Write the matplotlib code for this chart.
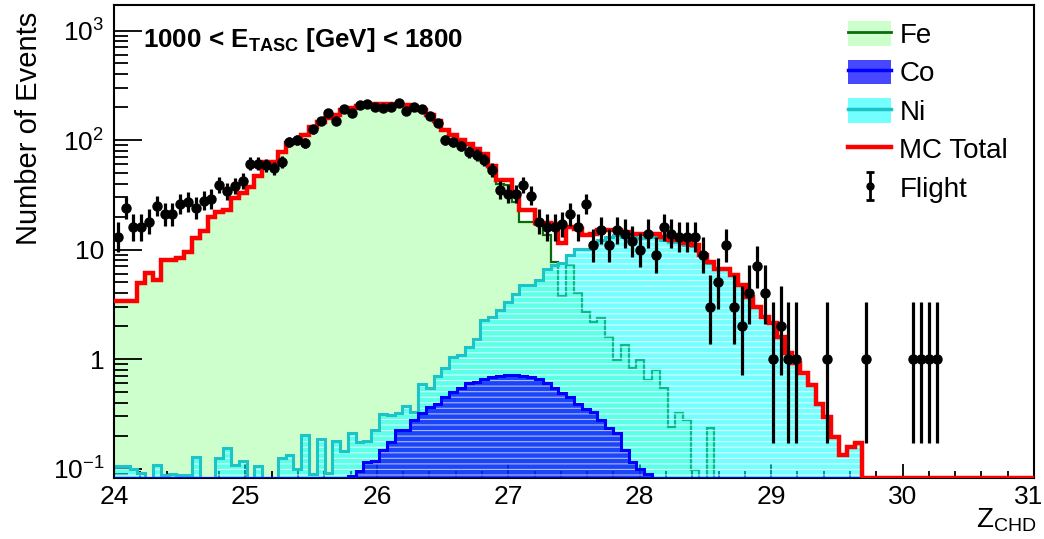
import numpy as np
import matplotlib
matplotlib.use('Agg')
import matplotlib.pyplot as plt
import matplotlib.transforms as mtransforms
from matplotlib.patches import Patch
from matplotlib.lines import Line2D
from matplotlib.ticker import LogLocator, MultipleLocator, FuncFormatter, NullFormatter

plt.rcParams['font.family'] = 'Liberation Sans'
plt.rcParams['mathtext.fontset'] = 'custom'
plt.rcParams['mathtext.rm'] = 'Liberation Sans'
plt.rcParams['mathtext.it'] = 'Liberation Sans:italic'
plt.rcParams['mathtext.bf'] = 'Liberation Sans:bold'
plt.rcParams['hatch.linewidth'] = 0.8

# ------------------------------------------------------------
# Histogram contents, 118 bins between Z = 24 and Z = 31
# ------------------------------------------------------------
z_min, z_max, n_bins = 24.0, 31.0, 118

fe = [3.39, 3.39, 3.39, 4.9, 6.06, 5.26, 8.0, 8.0, 8.3, 9.55,
      12.6, 14.8, 19.9, 22.0, 22.8, 29.3, 32.5, 37.4, 47, 63,
      63, 78, 93, 95, 111, 132, 147, 160, 169, 188,
      195, 204, 210, 214, 213, 211, 210, 207, 190, 186,
      169, 147, 123, 111, 100, 90, 81, 73, 55, 40,
      39, 27, 18, 18, 16.7, 13.6, 7.7, 3.8, 7.2, 4.0,
      2.7, 2.19, 2.35, 1.6, 0.98, 1.34, 0.82, 0.98, 0.64, 0.79,
      0.54, 0.24, 0.32, 0.28, 0.097, 0, 0.233, 0, 0, 0] + [0] * 38

ni = [0.105, 0.105, 0.098, 0.091, 0, 0.108, 0.087, 0.089, 0.087, 0.087,
      0.128, 0, 0, 0.126, 0.153, 0.108, 0.118, 0, 0.105, 0,
      0, 0.126, 0.133, 0.1, 0.202, 0.089, 0.185, 0.091, 0.18, 0.145,
      0.21, 0.176, 0.178, 0.224, 0.313, 0.31, 0.32, 0.372, 0.33, 0.59,
      0.54, 0.70, 0.82, 1.05, 1.09, 1.3, 1.51, 2.27, 2.4, 2.8,
      3.34, 3.9, 4.74, 4.74, 5.26, 6.6, 7.2, 7.5, 8.9, 10.2,
      10.2, 11.5, 12.3, 13, 13.5, 13, 13, 12.8, 13.2, 13,
      12.3, 11.8, 11.7, 11.0, 10.8, 8.9, 7.5, 6.7, 6.7, 5.85,
      4.74, 3.7, 3.0, 2.43, 2.12, 1.6, 1.13, 0.91, 0.74, 0.58,
      0.39, 0.297, 0.195, 0.133, 0.158, 0.17] + [0] * 22

co = [0] * 29 + [0.075, 0.085, 0.095, 0.115, 0.118, 0.148, 0.176, 0.224, 0.226, 0.277,
                 0.32, 0.366, 0.39, 0.45, 0.5, 0.54, 0.6, 0.62, 0.66, 0.69,
                 0.70, 0.71, 0.71, 0.70, 0.69, 0.65, 0.60, 0.54, 0.49, 0.45,
                 0.39, 0.35, 0.33, 0.277, 0.233, 0.21, 0.148, 0.115, 0.098, 0.09,
                 0.075] + [0] * 48

mc_total = [3.39, 3.39, 3.39, 4.9, 6.06, 5.26, 8.0, 8.0, 8.3, 9.55,
            12.65, 14.8, 19.9, 22.1, 22.9, 29.4, 32.6, 37.5, 47, 63,
            63, 78, 93, 96, 111, 132, 147, 160, 169, 188,
            195, 204, 211, 214, 213, 212, 211, 208, 191, 187,
            170, 148, 124, 112, 101, 91, 82, 74, 58, 43,
            43, 32, 23, 23, 17.3, 17.3, 17.0, 11.4, 16.2, 15.5,
            13.6, 14.0, 15.0, 15.0, 15.0, 14.5, 14.0, 14.0, 14.0, 14.0,
            13.0, 12.2, 12.2, 11.4, 11.0, 8.9, 7.7, 6.7, 6.7, 5.85,
            4.74, 3.7, 3.0, 2.43, 2.12, 1.6, 1.13, 0.91, 0.74, 0.58,
            0.39, 0.297, 0.195, 0.133, 0.158, 0.17] + [0] * 22

flight = [13, 24, 16, 16, 18, 25, 21, 21, 26, 27,
          24, 28, 29, 39, 34, 38, 42, 61, 61, 59,
          55, 63, 96, 100, 94, 125, 150, 176, 150, 191,
          176, 208, 213, 199, 195, 199, 216, 185, 199, 191,
          166, 142, 101, 96, 88, 78, 73, 66, 53, 35,
          32, 32, 39, 31, 18, 16, 16, 17, 21, 16,
          26, 11, 15, 11, 15, 14, 12, 10, 14, 9,
          16, 14, 13, 13, 13, 9, 3, 5, 11, 3,
          2, 4, 7, 4, 1, 2, 1, 1, 0, 0,
          0, 1, 0, 0, 0, 0, 1, 0, 0, 0,
          0, 0, 1, 1, 1, 1] + [0] * 12

y_lo, y_hi = 0.0819, 1710.0

edges = np.linspace(z_min, z_max, n_bins + 1)
centers = 0.5 * (edges[:-1] + edges[1:])
width = edges[1] - edges[0]


def garwood(n):
    # intervalo de Poisson (68%) aproximado con Wilson-Hilferty
    n = np.asarray(n, float)
    k1 = 2 * n
    k2 = 2 * n + 2
    lo = 0.5 * k1 * (1 - 2 / (9 * k1) - np.sqrt(2 / (9 * k1))) ** 3
    hi = 0.5 * k2 * (1 - 2 / (9 * k2) + np.sqrt(2 / (9 * k2))) ** 3
    return lo, hi


def line_vals(v):
    return np.maximum(np.asarray(v, float), y_lo)


def fill_vals(v):
    return np.maximum(np.asarray(v, float), 1e-3)


c_fe_fill = '#ccffcc'
c_fe_line = '#0b6b0b'
c_ni_line = '#1cc4c8'
c_ni_fill = (0.0, 1.0, 1.0, 0.55)
c_co_line = '#0000ff'
c_co_fill = (0.0, 0.0, 1.0, 0.72)

fig = plt.figure(figsize=(10.44, 5.39), dpi=100)
ax = fig.add_axes([114 / 1044, 1 - 478 / 539, 920 / 1044, 473 / 539])
ax.set_yscale('log')

# Fe
ax.stairs(fill_vals(fe), edges, baseline=1e-3, fill=True, color=c_fe_fill, zorder=1)
ax.stairs(line_vals(fe), edges, baseline=None, color=c_fe_line, lw=1.6, zorder=1.2)

# Ni
ax.stairs(fill_vals(ni), edges, baseline=1e-3, fill=True, facecolor=c_ni_fill,
          edgecolor='none', zorder=2)
ax.stairs(fill_vals(ni), edges, baseline=1e-3, fill=True, facecolor='none',
          edgecolor=(1, 1, 1, 0.75), lw=0, hatch='---', zorder=2.1)
ax.stairs(line_vals(ni), edges, baseline=None, color=c_ni_line, lw=2.2, zorder=2.2)

# Co
ax.stairs(fill_vals(co), edges, baseline=1e-3, fill=True, facecolor=c_co_fill,
          edgecolor='none', zorder=3)
ax.stairs(fill_vals(co), edges, baseline=1e-3, fill=True, facecolor='none',
          edgecolor=(1, 1, 1, 0.6), lw=0, hatch='---', zorder=3.1)
ax.stairs(line_vals(co), edges, baseline=None, color=c_co_line, lw=2.2, zorder=3.2)

# MC total
ax.stairs(line_vals(mc_total), edges, baseline=None, color='red', lw=3.2, zorder=4)

# Flight
counts = np.asarray(flight, float)
sel = counts > 0
lo, hi = garwood(counts[sel])
ax.errorbar(centers[sel], counts[sel], yerr=[counts[sel] - lo, hi - counts[sel]],
            xerr=width / 2, fmt='o', color='black', ms=6.5, elinewidth=2.3,
            capsize=0, zorder=5)

ax.set_xlim(z_min, z_max)
ax.set_ylim(y_lo, y_hi)

ax.xaxis.set_major_locator(MultipleLocator(1))
ax.xaxis.set_minor_locator(MultipleLocator(0.2))
ax.yaxis.set_major_locator(LogLocator(base=10))
ax.yaxis.set_minor_locator(LogLocator(base=10, subs=np.arange(2, 10)))
ax.yaxis.set_minor_formatter(NullFormatter())

ytick_text = {-1: r'$10^{-1}$', 0: '1', 1: '10', 2: r'$10^{2}$', 3: r'$10^{3}$'}
ax.yaxis.set_major_formatter(FuncFormatter(
    lambda v, p: ytick_text.get(int(round(np.log10(v))), '')))

ax.tick_params(which='both', direction='in', top=False, right=False, labelsize=19)
ax.tick_params(axis='y', which='major', length=20, width=1.3, pad=7)
ax.tick_params(axis='y', which='minor', length=10, width=1.3)
ax.tick_params(axis='x', which='major', length=10, width=1.3, pad=5)
ax.tick_params(axis='x', which='minor', length=5, width=1.3)
for s in ax.spines.values():
    s.set_linewidth(1.5)

# la etiqueta "31" se corre un poco hacia dentro
fig.canvas.draw()
last = [t for t in ax.get_xticklabels() if t.get_text() == '31']
for t in last:
    t.set_transform(t.get_transform() + mtransforms.ScaledTranslation(-5 / 100, 0, fig.dpi_scale_trans))

fig.text(29 / 1044, 1 - 12 / 539, 'Number of Events', rotation=90,
         ha='center', va='top', fontsize=21)
fig.text(1036 / 1044, 1 - 528 / 539, r'Z$_{\mathrm{CHD}}$', ha='right',
         va='baseline', fontsize=20)
fig.text(143 / 1044, 1 - 47 / 539, r'1000 < E$_{\mathbf{TASC}}$ [GeV] < 1800',
         ha='left', va='baseline', fontsize=18.7, fontweight='bold')

# Leyenda
h_fe = (Patch(facecolor=c_fe_fill, edgecolor='none'),
        Line2D([], [], color=c_fe_line, lw=2))
h_co = (Patch(facecolor=c_co_fill, edgecolor='none'),
        Line2D([], [], color=c_co_line, lw=2.5))
h_ni = (Patch(facecolor=c_ni_fill, edgecolor='none'),
        Line2D([], [], color=c_ni_line, lw=2.5))
h_mc = Line2D([], [], color='red', lw=3.2)
h_fl = ax.errorbar([np.nan], [np.nan], yerr=[1], fmt='o', color='black', ms=5,
                   elinewidth=2, capsize=3, capthick=2)
fig.legend([h_fe, h_co, h_ni, h_mc, h_fl], ['Fe', 'Co', 'Ni', 'MC Total', 'Flight'],
           loc='upper left', bbox_to_anchor=(848 / 1044, 1 - 21 / 539),
           frameon=False, fontsize=20, borderpad=0, handlelength=1.55,
           handleheight=1.0, handletextpad=0.3, labelspacing=0.38, borderaxespad=0)

fig.savefig('out.png', dpi=100)
